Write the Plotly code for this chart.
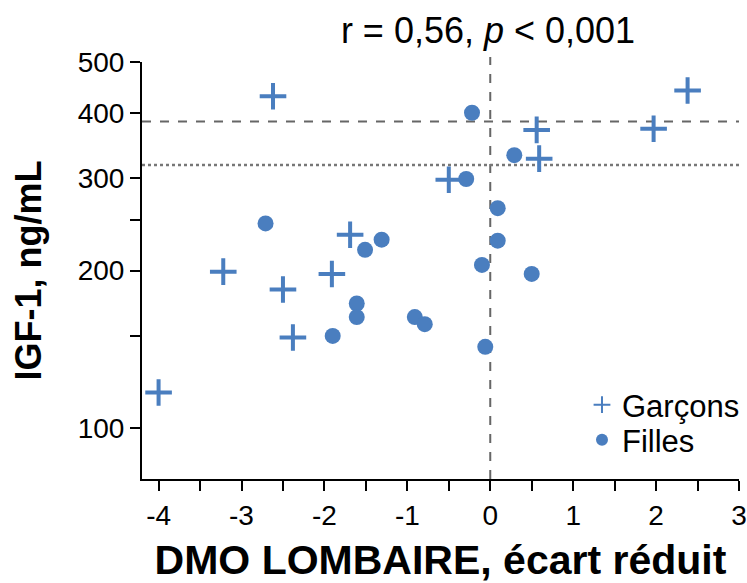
import plotly.graph_objects as go

# Garçons (boys)
boys_x = [-4.0, -3.22, -2.62, -2.50, -2.38, -1.91, -1.69, -0.50, 0.56, 0.59, 1.97, 2.38]
boys_y = [117, 199, 430, 184, 149, 197, 234, 298, 371, 327, 373, 441]

# Filles (girls)
girls_x = [-2.71, -1.31, -1.51, -1.61, -1.61, -1.90, -0.91, -0.79, 0.09, 0.09,
           -0.10, 0.50, -0.06, -0.22, 0.29, -0.29]
girls_y = [246, 229, 219, 173, 163, 150, 163, 158, 263, 228,
           205, 197, 143, 400, 332, 299]

ref_high = 385   # dashed horizontal reference
ref_low = 318    # dotted horizontal reference
ref_x = 0        # vertical reference

y_tickvals = [100, 150, 200, 250, 300, 400, 500]
y_ticktext = ["100", "", "200", "", "300", "400", "500"]
x_tickvals = [-4, -3, -2, -1, 0, 1, 2, 3]
x_ticktext = ["-4", "-3", "-2", "-1", "0", "1", "2", "3"]

color = "#4A7EBF"
FONT = "Liberation Sans, Arial, sans-serif"

fig = go.Figure()
fig.add_trace(go.Scatter(
    x=boys_x, y=boys_y, mode="markers", name="Garçons", legend="legend",
    marker=dict(symbol="cross-thin", size=19, color=color,
                line=dict(color=color, width=4)),
))
fig.add_trace(go.Scatter(
    x=girls_x, y=girls_y, mode="markers", name="Filles", legend="legend2",
    marker=dict(symbol="circle", size=16, color=color, line=dict(width=0)),
))

# reference lines
fig.add_shape(type="line", xref="x", yref="y", x0=-4.2, x1=3, y0=ref_high, y1=ref_high,
              line=dict(color="#666666", width=2, dash="dash"), layer="below")
fig.add_shape(type="line", xref="x", yref="y", x0=-4.2, x1=3, y0=ref_low, y1=ref_low,
              line=dict(color="#777777", width=2.5, dash="dot"), layer="below")
fig.add_shape(type="line", xref="x", yref="paper", x0=ref_x, x1=ref_x, y0=0, y1=1.012,
              line=dict(color="#666666", width=2, dash="dash"), layer="below")

legend_common = dict(xanchor="left", yanchor="middle", bgcolor="rgba(0,0,0,0)",
                     itemsizing="constant", font=dict(size=31, family=FONT, color="black"))

fig.update_layout(
    width=747, height=583,
    margin=dict(l=142, r=8, t=62, b=104, autoexpand=False),
    paper_bgcolor="white", plot_bgcolor="white",
    font=dict(family=FONT, color="black", size=28),
    title=dict(text="r = 0,56, <i>p</i> &lt; 0,001", x=488 / 747, xanchor="center",
               y=1 - 30 / 583, yanchor="middle",
               font=dict(size=36, family=FONT, color="black")),
    showlegend=True,
    legend=dict(x=0.737, y=0.1775, **legend_common),
    legend2=dict(x=0.737, y=0.0935, **legend_common),
    xaxis=dict(
        range=[-4.2, 3], tickvals=x_tickvals, ticktext=x_ticktext,
        ticks="outside", ticklen=10, tickwidth=2,
        tickcolor="black", showline=True, linecolor="black", linewidth=2,
        showgrid=False, zeroline=False,
        minor=dict(dtick=0.5, tick0=0, ticks="outside", ticklen=10, tickwidth=2,
                   tickcolor="black", showgrid=False),
        tickfont=dict(size=28, family=FONT),
        title=dict(text="<b>DMO LOMBAIRE, écart réduit</b>",
                   font=dict(size=41, family=FONT), standoff=23),
    ),
    yaxis=dict(
        type="log", range=[1.9031, 2.69897], tickvals=y_tickvals, ticktext=y_ticktext,
        ticks="outside", ticklen=10, tickwidth=2, tickcolor="black",
        showline=True, linecolor="black", linewidth=2,
        showgrid=False, zeroline=False,
        tickfont=dict(size=28, family=FONT),
        title=dict(text="<b>IGF-1, ng/mL</b>", font=dict(size=36, family=FONT), standoff=25),
    ),
)

fig.write_html(
    "out.html",
    config={"displayModeBar": False},
    post_script="document.body.style.margin='0';document.body.style.overflow='hidden';",
)
